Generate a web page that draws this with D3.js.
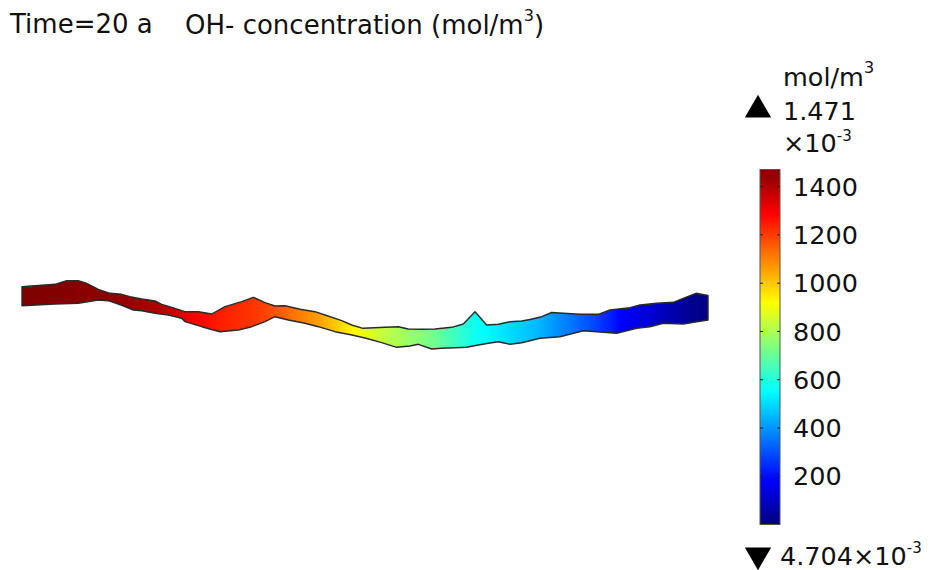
<!DOCTYPE html>
<html>
<head>
<meta charset="utf-8">
<script src="https://cdn.jsdelivr.net/npm/d3@7"></script>
<style>
  body { margin: 0; background: #fff; }
  text { font-family: "DejaVu Sans", sans-serif; fill: #111; }
</style>
</head>
<body>
<div class="canvas"></div>
<script>
// labels
const timeLabel = "Time=20 a";
const titleLabel = "OH- concentration (mol/m";
const unitLabel = "mol/m";
const maxLabel = "1.471";
const minLabel = "4.704×10";
const expLabel = "-3";

// colour range (mol/m3)
const cMin = 0.004704;
const cMax = 1471;
const colorTicks = [200, 400, 600, 800, 1000, 1200, 1400];

// concentration along the section (x in m, c in mol/m3)
const profileX = [0, 38, 78, 108, 138, 163, 173, 198, 228, 243, 268, 293, 313, 333, 343, 363, 388, 413, 433, 453, 468, 488, 513, 538, 568, 588, 598, 628, 658, 686];
const profileC = [1471, 1465, 1450, 1440, 1400, 1325, 1290, 1245, 1215, 1190, 1130, 1070, 1000, 920, 880, 825, 770, 710, 640, 570, 540, 500, 455, 385, 300, 230, 185, 120, 45, 0.0047];

// geometry outline (x, elevation in m)
const topEdge = [
    [0, 63.3], [33, 65.7], [44.7, 69.3], [56.3, 69.3], [64.7, 66.7], [76.3, 60.7], [88, 56.7],
    [99.7, 55.7], [108, 53.3], [119.7, 51], [133, 49], [139.7, 45.7], [149.7, 42.7], [163, 38.3],
    [176.3, 38.3], [189.7, 36], [203, 43.3], [219.7, 48.3], [231.3, 52.7], [243, 47.3], [253, 44],
    [263, 44.3], [278, 40.7], [293, 38.3], [303, 35], [319.7, 29.3], [329.7, 25], [341, 21.7],
    [363, 22.7], [376.3, 23.3], [386.3, 21], [399.7, 20.7], [413, 21], [429.7, 22.7], [441.3, 26],
    [453, 38.3], [464.7, 25], [476.3, 25.7], [488, 28.3], [499.7, 29], [508, 30.5], [519.7, 33.3],
    [529.7, 37.5], [541.3, 36.7], [558, 35.7], [576.3, 35.7], [588, 40], [608, 42.3], [618, 45],
    [634.7, 46.7], [651.3, 47.7], [663, 52.3], [674, 56.7], [686, 54.5]
];
const bottomEdge = [
    [0, 44.3], [33, 46], [56.3, 46.7], [76.3, 50], [86.3, 49.3], [99.7, 44.7], [111.3, 40],
    [119.7, 39.3], [133, 36.7], [146.3, 35], [159.7, 31.7], [163, 28.3], [179.7, 23.3], [198, 18.3],
    [216.3, 20], [229.7, 23.3], [243, 28.3], [253, 33.3], [266.3, 30], [283, 26.7], [296.3, 23.3],
    [313, 18.3], [330, 15], [343, 12], [359.7, 7.3], [374.7, 2.7], [388, 4], [396.3, 5.7],
    [409.7, 1], [419.7, 1.7], [433, 2.3], [444.7, 2.7], [456.3, 5], [466.3, 6.7], [476.3, 8.3],
    [488, 5.7], [499.7, 7.3], [518, 11.7], [538, 13.3], [561.3, 19.3], [578, 18], [594.7, 16.7],
    [614.7, 21.7], [628, 23.3], [641.3, 26.7], [661.3, 26], [674.7, 28.3], [686, 30]
];

const dims = { width: 934, height: 570 };
const bar = { x: 760, y: 169.5, width: 20, height: 355 };

const svg = d3
    .select(".canvas")
    .append("svg")
    .attr("width", dims.width)
    .attr("height", dims.height);

const defs = svg.append("defs");

// matlab style jet
function jet(t) {
    const cl = (v) => Math.max(0, Math.min(1, v));
    const r = cl(Math.min(4 * t - 1.5, -4 * t + 4.5));
    const g = cl(Math.min(4 * t - 0.5, -4 * t + 3.5));
    const b = cl(Math.min(4 * t + 0.5, -4 * t + 2.5));
    return d3.rgb(r * 255, g * 255, b * 255).formatHex();
}
const color = (c) => jet((c - cMin) / (cMax - cMin));

const xScale = d3.scaleLinear().domain([0, 686]).range([22, 708]);
const yScale = d3.scaleLinear().domain([0, 70]).range([350, 280]);

// horizontal gradient following the concentration profile
const fieldGrad = defs
    .append("linearGradient")
    .attr("id", "field")
    .attr("gradientUnits", "userSpaceOnUse")
    .attr("x1", xScale(0))
    .attr("x2", xScale(686))
    .attr("y1", 0)
    .attr("y2", 0);

const stops = [];
for (let i = 0; i < profileX.length - 1; i++) {
    const ix = d3.interpolateNumber(profileX[i], profileX[i + 1]);
    const ic = d3.interpolateNumber(profileC[i], profileC[i + 1]);
    for (let k = 0; k < 4; k++) {
        stops.push({ x: ix(k / 4), c: ic(k / 4) });
    }
}
stops.push({ x: profileX[profileX.length - 1], c: profileC[profileC.length - 1] });

fieldGrad
    .selectAll("stop")
    .data(stops)
    .enter()
    .append("stop")
    .attr("offset", (d) => d.x / 686)
    .attr("stop-color", (d) => color(d.c));

const outline = topEdge.concat(bottomEdge.slice().reverse());
const lineGen = d3
    .line()
    .x((d) => xScale(d[0]))
    .y((d) => yScale(d[1]))
    .curve(d3.curveLinearClosed);

svg.append("path")
    .attr("d", lineGen(outline))
    .attr("fill", "url(#field)")
    .attr("stroke", "#2a2a2a")
    .attr("stroke-width", 1.4)
    .attr("stroke-linejoin", "round");

// colour bar
const barScale = d3.scaleLinear().domain([cMin, cMax]).range([bar.y + bar.height, bar.y]);

const barGrad = defs
    .append("linearGradient")
    .attr("id", "bar")
    .attr("x1", 0)
    .attr("x2", 0)
    .attr("y1", 1)
    .attr("y2", 0);

barGrad
    .selectAll("stop")
    .data(d3.range(0, 1.0001, 0.025))
    .enter()
    .append("stop")
    .attr("offset", (d) => d)
    .attr("stop-color", (d) => jet(d));

svg.append("rect")
    .attr("x", bar.x)
    .attr("y", bar.y)
    .attr("width", bar.width)
    .attr("height", bar.height)
    .attr("fill", "url(#bar)")
    .attr("stroke", "#555")
    .attr("stroke-width", 1);

const tickG = svg.append("g");
tickG.selectAll("line.l")
    .data(colorTicks)
    .enter()
    .append("line")
    .attr("x1", bar.x)
    .attr("x2", bar.x + 3)
    .attr("y1", (d) => barScale(d))
    .attr("y2", (d) => barScale(d))
    .attr("stroke", "#222");
tickG.selectAll("line.r")
    .data(colorTicks)
    .enter()
    .append("line")
    .attr("x1", bar.x + bar.width - 3)
    .attr("x2", bar.x + bar.width)
    .attr("y1", (d) => barScale(d))
    .attr("y2", (d) => barScale(d))
    .attr("stroke", "#222");
tickG.selectAll("text")
    .data(colorTicks)
    .enter()
    .append("text")
    .attr("x", 793)
    .attr("y", (d) => barScale(d))
    .attr("dy", "0.36em")
    .attr("font-size", 25.5)
    .text((d) => d);

// titles
svg.append("text").attr("x", 10).attr("y", 33).attr("font-size", 26).text(timeLabel);

const title = svg.append("text").attr("x", 185).attr("y", 34).attr("font-size", 26);
title.append("tspan").text(titleLabel);
title.append("tspan").attr("dy", -13).attr("font-size", 16).text("3");
title.append("tspan").attr("dy", 13).text(")");

// colour bar annotations
const unit = svg.append("text").attr("x", 783).attr("y", 86).attr("font-size", 25.5);
unit.append("tspan").text(unitLabel);
unit.append("tspan").attr("dy", -13).attr("font-size", 16).text("3");

const tri = d3.symbol().type(d3.symbolTriangle).size(300);
svg.append("path")
    .attr("d", tri())
    .attr("transform", "translate(758,110)")
    .attr("fill", "#000");
svg.append("path")
    .attr("d", tri())
    .attr("transform", "translate(758,555) rotate(180)")
    .attr("fill", "#000");

svg.append("text").attr("x", 783).attr("y", 120).attr("font-size", 25.5).text(maxLabel);
const mult = svg.append("text").attr("x", 783).attr("y", 152).attr("font-size", 25.5);
mult.append("tspan").text("×10");
mult.append("tspan").attr("dy", -11).attr("font-size", 15).text(expLabel);

const minT = svg.append("text").attr("x", 780).attr("y", 565).attr("font-size", 25.5);
minT.append("tspan").text(minLabel);
minT.append("tspan").attr("dy", -12).attr("font-size", 15).text(expLabel);
</script>
</body>
</html>
